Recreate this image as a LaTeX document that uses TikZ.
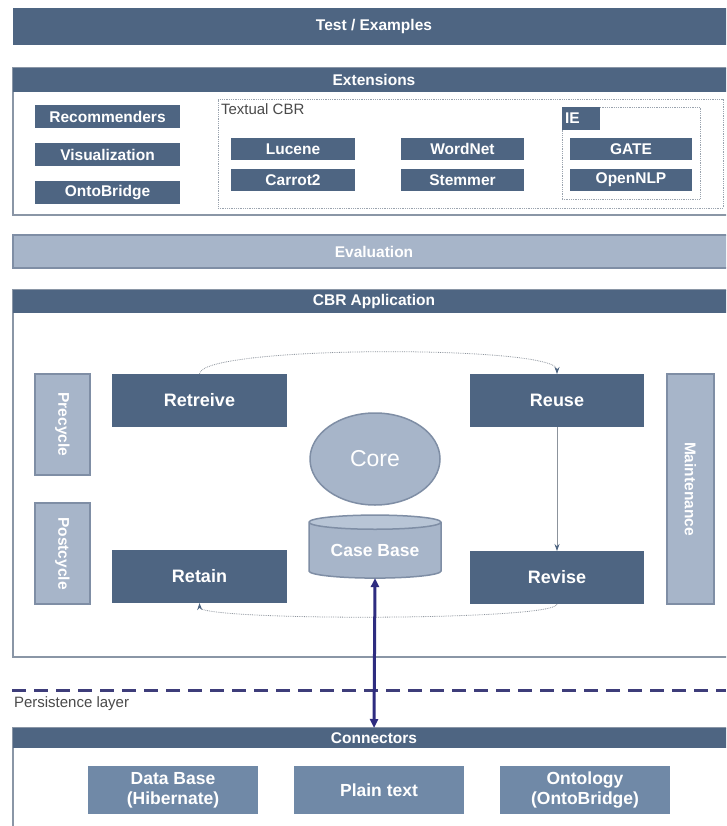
\documentclass[tikz,border=0pt]{standalone}
\usepackage{fontspec}
\usepackage{graphicx}
\setmainfont{Liberation Sans}
\usetikzlibrary{shapes.geometric,arrows.meta}
\definecolor{dark}{HTML}{4E6582}
\definecolor{lightf}{HTML}{A7B5C9}
\definecolor{lighttop}{HTML}{B8C5D6}
\definecolor{lightb}{HTML}{7F8EA5}
\definecolor{medf}{HTML}{7089A7}
\definecolor{framec}{HTML}{8A96A6}
\definecolor{navy}{HTML}{2E2C80}
\definecolor{dashc}{HTML}{3E3D7A}
\definecolor{dotc}{HTML}{9AA3AE}
\definecolor{flowc}{HTML}{8C939C}
\definecolor{labc}{HTML}{4A4A4A}
\begin{document}
\begin{tikzpicture}[x=1pt,y=-1pt,
  every node/.style={inner sep=0pt, outer sep=0pt},
  frame/.style={draw=framec, line width=1.8pt, fill=white, anchor=north west},
  header/.style={fill=dark, text=white, anchor=north west, font=\bfseries\fontsize{15.5}{18}\selectfont},
  smallbox/.style={fill=dark, text=white, anchor=north west, font=\bfseries\fontsize{15.5}{18}\selectfont},
  phasebox/.style={fill=dark, text=white, anchor=north west, font=\bfseries\fontsize{18}{20}\selectfont},
  sidebox/.style={fill=lightf, draw=lightb, line width=1.5pt, text=white, anchor=north west, font=\bfseries\fontsize{15.5}{18}\selectfont},
  connbox/.style={fill=medf, text=white, anchor=north west, align=center, font=\bfseries\fontsize{17.5}{20}\selectfont},
  dotbox/.style={draw=dotc, densely dotted, line width=0.8pt, anchor=north west},
  plainlab/.style={text=labc, anchor=north west, font=\fontsize{15}{17}\selectfont},
  flow/.style={draw=flowc, line width=0.8pt, -{Stealth[length=7pt,width=5pt,fill=dark,color=dark]}},
]
\useasboundingbox (0,0) rectangle (726,826);
\clip (0,0) rectangle (726,826);
\fill[white] (0,0) rectangle (726,826);

% Test / Examples
\node[header, minimum width=722pt, minimum height=37pt] (test) at (13,8) {Test / Examples};

% Extensions
\node[frame, minimum width=722pt, minimum height=147pt] (extframe) at (13,68) {};
\node[header, minimum width=722pt, minimum height=24pt] (ext) at (13,68) {Extensions};
\node[smallbox, minimum width=145pt, minimum height=23pt] (rec) at (35,105) {Recommenders};
\node[smallbox, minimum width=145pt, minimum height=23pt] (vis) at (35,143) {Visualization};
\node[smallbox, minimum width=145pt, minimum height=23pt] (onto) at (35,181) {OntoBridge};
\node[dotbox, minimum width=505pt, minimum height=109pt] (tcbr) at (218,99) {};
\node[plainlab] (tcbrlab) at (221,104) {Textual CBR};
\node[smallbox, minimum width=124pt, minimum height=22pt] (lucene) at (231,138) {Lucene};
\node[smallbox, minimum width=124pt, minimum height=22pt] (carrot) at (231,169) {Carrot2};
\node[smallbox, minimum width=123pt, minimum height=22pt] (wordnet) at (401,138) {WordNet};
\node[smallbox, minimum width=123pt, minimum height=22pt] (stemmer) at (401,169) {Stemmer};
\node[dotbox, minimum width=138pt, minimum height=92pt] (iebox) at (562,107) {};
\node[smallbox, minimum width=38pt, minimum height=23pt, align=left, text width=32pt, inner xsep=3pt] (ie) at (562,107) {IE};
\node[smallbox, minimum width=122pt, minimum height=22pt] (gate) at (570,138) {GATE};
\node[smallbox, minimum width=122pt, minimum height=22pt] (nlp) at (570,169) {OpenNLP};

% Evaluation
\node[sidebox, minimum width=722pt, minimum height=33pt] (eval) at (13,235) {Evaluation};

% CBR Application
\node[frame, minimum width=722pt, minimum height=367pt] (appframe) at (13,290) {};
\node[header, minimum width=722pt, minimum height=23pt] (app) at (13,290) {CBR Application};
\node[sidebox, minimum width=55pt, minimum height=101pt] (pre) at (35,374) {\rotatebox{-90}{Precycle}};
\node[sidebox, minimum width=55pt, minimum height=101pt] (post) at (35,503) {\rotatebox{-90}{Postcycle}};
\node[sidebox, minimum width=47pt, minimum height=230pt] (maint) at (667,374) {\rotatebox{-90}{Maintenance}};
\node[phasebox, minimum width=175pt, minimum height=53pt] (retrieve) at (112,374) {Retreive};
\node[phasebox, minimum width=174pt, minimum height=53pt] (reuse) at (470,374) {Reuse};
\node[phasebox, minimum width=175pt, minimum height=53pt] (retain) at (112,550) {Retain};
\node[phasebox, minimum width=174pt, minimum height=53pt] (revise) at (470,551) {Revise};
\node[ellipse, fill=lightf, draw=lightb, line width=1.5pt, minimum width=130pt, minimum height=92pt, text=white, font=\fontsize{23}{25}\selectfont] (core) at (375,459) {Core};
\node[cylinder, shape border rotate=90, aspect=0.16, draw=lightb, line width=1.5pt,
      cylinder uses custom fill, cylinder body fill=lightf, cylinder end fill=lighttop,
      minimum width=132pt, minimum height=63pt, text=white,
      font=\bfseries\fontsize{17.5}{20}\selectfont] (cb) at (375,550.5) {Case Base};

\draw[flow, densely dotted] (retrieve.north) .. controls (200,345) and (557,345) .. (reuse.north);
\draw[flow] (reuse.south) -- (revise.north);
\draw[flow, densely dotted] (revise.south) .. controls (557,621) and (200,621) .. (retain.south);

% Persistence layer
\coordinate (dl) at (12,690);
\coordinate (dr) at (726,690);
\draw[dashc, line width=3pt, dash pattern=on 14pt off 8pt] (dl) -- (dr);
\node[plainlab] (perslab) at (14,697) {Persistence layer};

% Connectors
\node[frame, minimum width=722pt, minimum height=112pt] (connframe) at (13,728) {};
\node[header, minimum width=722pt, minimum height=20pt] (conn) at (13,728) {Connectors};
\node[connbox, minimum width=170pt, minimum height=48pt] (db) at (88,766) {Data Base\\(Hibernate)};
\node[connbox, minimum width=170pt, minimum height=48pt] (plain) at (294,766) {Plain text};
\node[connbox, minimum width=170pt, minimum height=48pt] (ontol) at (500,766) {Ontology\\(OntoBridge)};

\draw[navy, line width=3pt, {Triangle[length=9pt,width=8pt]}-{Triangle[length=9pt,width=8pt]}] (cb.south) -- (conn.north);
\end{tikzpicture}
\end{document}
